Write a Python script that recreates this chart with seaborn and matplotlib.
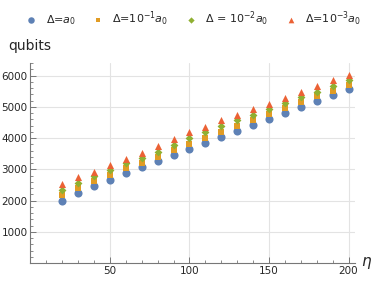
import numpy as np
import pandas as pd
import matplotlib
matplotlib.use("Agg")
import matplotlib.pyplot as plt
import seaborn as sns
from matplotlib.ticker import MultipleLocator

# data
eta = [20, 30, 40, 50, 60, 70, 80, 90, 100, 110, 120, 130, 140, 150, 160, 170, 180, 190, 200]
q_a0 = [2000, 2240, 2460, 2670, 2890, 3070, 3260, 3460, 3660, 3840, 4050, 4230, 4410, 4620, 4820, 5010, 5200, 5370, 5560]
q_1 = [2190, 2410, 2620, 2820, 3030, 3210, 3410, 3610, 3820, 4000, 4210, 4390, 4570, 4770, 4960, 5150, 5340, 5520, 5710]
q_2 = [2340, 2550, 2790, 2980, 3190, 3370, 3570, 3780, 4000, 4190, 4390, 4570, 4750, 4930, 5120, 5310, 5490, 5670, 5850]
q_3 = [2520, 2770, 2930, 3150, 3320, 3540, 3750, 3970, 4190, 4360, 4570, 4750, 4920, 5100, 5290, 5490, 5680, 5850, 6030]
labels = [r'$\Delta$=$a_0$', r'$\Delta$=10$^{-1}a_0$', r'$\Delta$ = 10$^{-2}a_0$', r'$\Delta$=10$^{-3}a_0$']

colors = ['#5E81B5', '#E19C24', '#8FB032', '#EB6235']
markers = ['o', 's', 'D', '^']
sizes = [34, 16, 16, 26]

sns.set_style("white")
plt.rcParams['font.family'] = ['DejaVu Sans']

fig = plt.figure(figsize=(3.74, 2.86), dpi=100)
ax = fig.add_axes([0.081, 0.080, 0.868, 0.699])

for vals, lab, c, m, s in zip([q_a0, q_1, q_2, q_3], labels, colors, markers, sizes):
    sns.scatterplot(x=eta, y=vals, ax=ax, color=c, marker=m, s=s, linewidth=0, label=lab)

ax.set_xlim(0, 204)
ax.set_ylim(0, 6400)
ax.xaxis.set_major_locator(MultipleLocator(50))
ax.xaxis.set_minor_locator(MultipleLocator(10))
ax.yaxis.set_major_locator(MultipleLocator(1000))
ax.yaxis.set_minor_locator(MultipleLocator(200))
ax.set_xticks([50, 100, 150, 200])
ax.set_yticks([1000, 2000, 3000, 4000, 5000, 6000])
ax.grid(True, which='major', color='#e3e3e3', linewidth=0.8)
ax.set_axisbelow(True)

for side in ['top', 'right']:
    ax.spines[side].set_visible(False)
for side in ['left', 'bottom']:
    ax.spines[side].set_color('#777777')
    ax.spines[side].set_linewidth(0.8)
ax.tick_params(which='both', bottom=True, left=True, top=False, right=False)
ax.tick_params(which='major', direction='in', length=4, width=0.7, color='#777777', labelsize=7.5, pad=2)
ax.tick_params(which='minor', direction='in', length=2.2, width=0.6, color='#777777')

fig.text(0.022, 0.84, 'qubits', fontsize=10, ha='left', va='center')
ax.text(1.02, 0.0, r'$\eta$', transform=ax.transAxes, fontsize=11, ha='left', va='center')

ax.get_legend().remove()
h, l = ax.get_legend_handles_labels()
fig.legend(h, l, loc='upper center', bbox_to_anchor=(0.51, 1.0), ncol=4, frameon=False,
           fontsize=8, handletextpad=0.3, columnspacing=1.0, markerscale=0.8)

fig.savefig('out.png', dpi=100)
